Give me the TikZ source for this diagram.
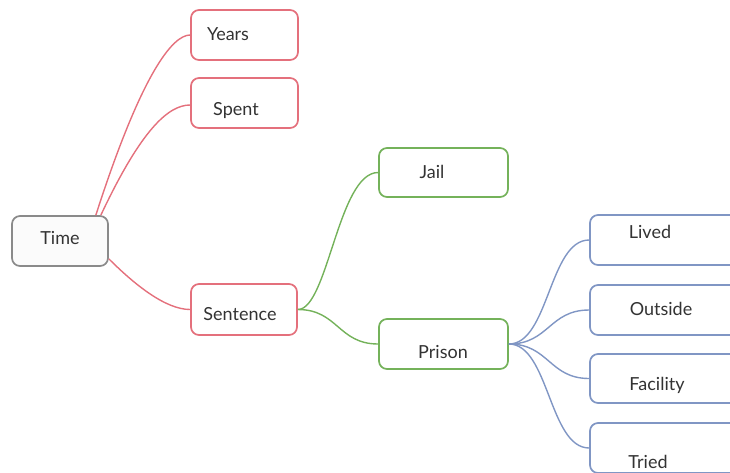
\documentclass[tikz,border=0pt]{standalone}
\usepackage{fontspec}
\setmainfont{Lato}
\usetikzlibrary{calc}
\definecolor{cred}{HTML}{E4707C}
\definecolor{cgreen}{HTML}{74B25A}
\definecolor{cblue}{HTML}{8096C4}
\definecolor{cgray}{HTML}{8A8A8A}
\definecolor{ctext}{HTML}{333333}
\tikzset{
  box/.style={draw, rounded corners=8pt, line width=1.7pt, fill=white, minimum height=50pt, inner sep=0pt},
  txt/.style={text=ctext, font=\fontsize{18}{20}\selectfont, inner sep=0pt},
  link/.style={line width=1.4pt},
}
\begin{document}
\begin{tikzpicture}[x=1pt,y=-1pt]
\useasboundingbox (0,0) rectangle (730,472);
\clip (0,0) rectangle (730,472);
% boxes
\node[box,draw=cgray,fill=gray!3,minimum width=96pt] (time) at (60,241) {};
\node[box,draw=cred,minimum width=107pt] (years) at (244.5,35) {};
\node[box,draw=cred,minimum width=107pt] (spent) at (244.5,103) {};
\node[box,draw=cred,minimum width=106pt,minimum height=51pt] (sentence) at (244,309.5) {};
\node[box,draw=cgreen,minimum width=129pt,minimum height=49pt] (jail) at (443.5,172.5) {};
\node[box,draw=cgreen,minimum width=129pt] (prison) at (443.5,344) {};
\node[box,draw=cblue,minimum width=160pt] (lived) at (670,240) {};
\node[box,draw=cblue,minimum width=160pt] (outside) at (670,310) {};
\node[box,draw=cblue,minimum width=160pt,minimum height=49pt] (facility) at (670,378.5) {};
\node[box,draw=cblue,minimum width=160pt] (tried) at (670,448) {};
% links between boxes
\draw[link,cred] ($(time.north east)+(-13,0)$) .. controls +(45,-140) and +(-18,0) .. (years.west);
\draw[link,cred] ($(time.north east)+(-8,0)$) .. controls +(40,-85) and +(-22,0) .. ($(spent.west)+(0,2)$);
\draw[link,cred] ($(time.south east)+(0,-8)$) .. controls +(25,25) and +(-25,0) .. (sentence.west);
\draw[link,cgreen] (sentence.east) .. controls +(30,0) and +(-40,0) .. (jail.west);
\draw[link,cgreen] (sentence.east) .. controls +(40,0) and +(-40,0) .. (prison.west);
\draw[link,cblue] (prison.east) .. controls +(40,0) and +(-40,0) .. (lived.west);
\draw[link,cblue] (prison.east) .. controls +(40,0) and +(-40,0) .. (outside.west);
\draw[link,cblue] (prison.east) .. controls +(40,0) and +(-40,0) .. (facility.west);
\draw[link,cblue] (prison.east) .. controls +(40,0) and +(-40,0) .. (tried.west);
% texts
\node[txt] (ttime) at (60,238) {Time};
\node[txt] (tyears) at (228,34) {Years};
\node[txt] (tspent) at (236,111) {Spent};
\node[txt] (tsentence) at (240,314) {Sentence};
\node[txt] (tjail) at (432,172) {Jail};
\node[txt] (tprison) at (443,352) {Prison};
\node[txt] (tlived) at (650,232) {Lived};
\node[txt] (toutside) at (661,309) {Outside};
\node[txt] (tfacility) at (657,385) {Facility};
\node[txt] (ttried) at (648,462) {Tried};
\end{tikzpicture}
\end{document}
